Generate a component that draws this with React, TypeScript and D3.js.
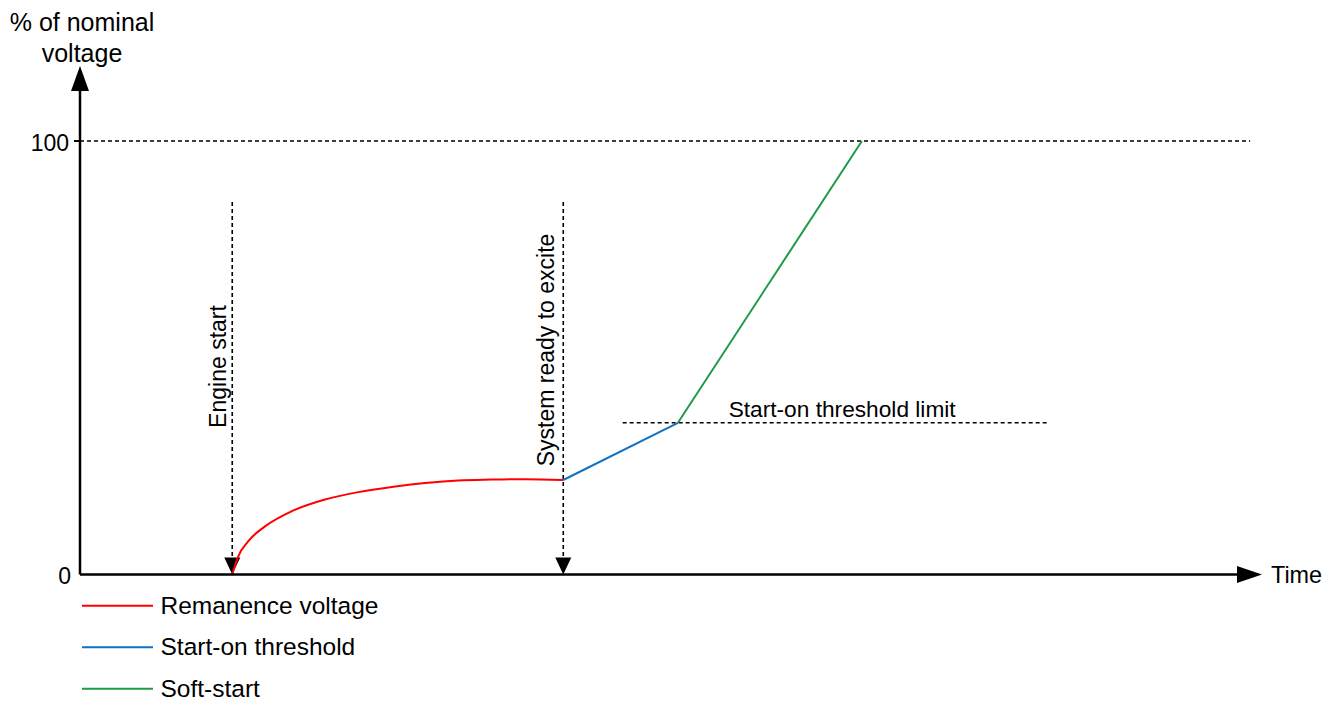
import React from "react";
import * as d3 from "d3";

// Data (time in arbitrary units, voltage in % of nominal)
const remanenceT = [15.43, 16.04, 17.06, 18.75, 21.46, 24.83, 28.2, 31.6, 34.97, 38.34, 41.7, 45.1, 48.98];
const remanenceV = [0, 4.2, 7.7, 11.1, 14.6, 17.3, 19.0, 20.2, 21.1, 21.7, 21.9, 22.0, 21.8];
const thresholdT = [48.98, 60.6];
const thresholdV = [21.8, 35];
const softStartT = [60.6, 79.25];
const softStartV = [35, 100];

const engineStartT = 15.43;
const readyT = 48.98;
const thresholdLimit = 35;
const thresholdLimitRange = [55.0, 98.0];
const nominalLineEnd = 118.6;
const yTicks = [0, 100];

const legendItems = [
  { label: "Remanence voltage", color: "#ff0000" },
  { label: "Start-on threshold", color: "#1172c4" },
  { label: "Soft-start", color: "#1f9a45" },
];

const FONT = "'Liberation Sans', Arial, sans-serif";

export default function App() {
  const W = 1340, H = 702;
  const x = d3.scaleLinear().domain([0, 120]).range([80, 1264]);
  const y = d3.scaleLinear().domain([0, 100]).range([574.5, 141]);

  const line = d3.line<[number, number]>().x(d => x(d[0])).y(d => y(d[1]));
  const curve = d3.line<[number, number]>().x(d => x(d[0])).y(d => y(d[1])).curve(d3.curveMonotoneX);

  const red = remanenceT.map((t, i) => [t, remanenceV[i]] as [number, number]);
  const blue = thresholdT.map((t, i) => [t, thresholdV[i]] as [number, number]);
  const green = softStartT.map((t, i) => [t, softStartV[i]] as [number, number]);

  const x0 = x(0), y0 = y(0);
  const dash = "4,3";

  const downArrow = (px: number) =>
    `M${px - 8},${y0 - 17} L${px + 8},${y0 - 17} L${px},${y0} Z`;

  return (
    <svg width={W} height={H} style={{ position: "absolute", left: 0, top: 0, background: "#fff" }} fontFamily={FONT}>
      <rect x={0} y={0} width={W} height={H} fill="#fff" />
      {/* Y axis title */}
      <text x={82} y={31} fontSize={25} textAnchor="middle" fill="#000">% of nominal</text>
      <text x={82} y={62} fontSize={25} textAnchor="middle" fill="#000">voltage</text>

      {/* Nominal 100% dotted line */}
      <line x1={x0} x2={x(nominalLineEnd)} y1={y(100)} y2={y(100)} stroke="#000" strokeWidth={1.6} strokeDasharray={dash} />

      {/* Threshold limit dotted line */}
      <line x1={x(thresholdLimitRange[0])} x2={x(thresholdLimitRange[1])} y1={y(thresholdLimit)} y2={y(thresholdLimit)} stroke="#000" strokeWidth={1.6} strokeDasharray={dash} />
      <text x={x(thresholdLimitRange[0]) + 106} y={y(thresholdLimit) - 6} fontSize={22.7} fill="#000">Start-on threshold limit</text>

      {/* Event verticals */}
      <line x1={x(engineStartT)} x2={x(engineStartT)} y1={202} y2={y0 - 16} stroke="#000" strokeWidth={1.6} strokeDasharray={dash} />
      <path d={downArrow(x(engineStartT))} fill="#000" />
      <text transform={`translate(${x(engineStartT) - 6},366.5) rotate(-90)`} fontSize={23} textAnchor="middle" fill="#000">Engine start</text>

      <line x1={x(readyT)} x2={x(readyT)} y1={202} y2={y0 - 16} stroke="#000" strokeWidth={1.6} strokeDasharray={dash} />
      <path d={downArrow(x(readyT))} fill="#000" />
      <text transform={`translate(${x(readyT) - 9.5},350) rotate(-90)`} fontSize={23} textAnchor="middle" fill="#000">System ready to excite</text>

      {/* Series */}
      <path d={curve(red) || ""} fill="none" stroke={legendItems[0].color} strokeWidth={2} />
      <path d={line(blue) || ""} fill="none" stroke={legendItems[1].color} strokeWidth={2} />
      <path d={line(green) || ""} fill="none" stroke={legendItems[2].color} strokeWidth={2} />

      {/* Axes */}
      <line x1={x0} x2={x0} y1={88} y2={y0} stroke="#000" strokeWidth={2.5} />
      <path d={`M${x0 - 9},${91} L${x0 + 9},${91} L${x0},${66} Z`} fill="#000" />
      <line x1={x0} x2={1240} y1={y0} y2={y0} stroke="#000" strokeWidth={2.5} />
      <path d={`M1237,${y0 - 8.5} L1237,${y0 + 8.5} L1262,${y0} Z`} fill="#000" />
      <text x={1271} y={583} fontSize={23.4} fill="#000">Time</text>

      {/* Y ticks */}
      {yTicks.map(t => (
        <g key={t}>
          {t !== 0 && <line x1={x0 - 6} x2={x0} y1={y(t)} y2={y(t)} stroke="#000" strokeWidth={2} />}
          <text x={t === 0 ? 71 : 69} y={y(t) + 9.5} fontSize={23} textAnchor="end" fill="#000">{t}</text>
        </g>
      ))}

      {/* Legend */}
      {legendItems.map((it, i) => {
        const ly = 605.7 + i * 41.5;
        return (
          <g key={it.label}>
            <line x1={82} x2={153} y1={ly} y2={ly} stroke={it.color} strokeWidth={2} />
            <text x={160.5} y={ly + 8} fontSize={24.5} fill="#000">{it.label}</text>
          </g>
        );
      })}
    </svg>
  );
}
